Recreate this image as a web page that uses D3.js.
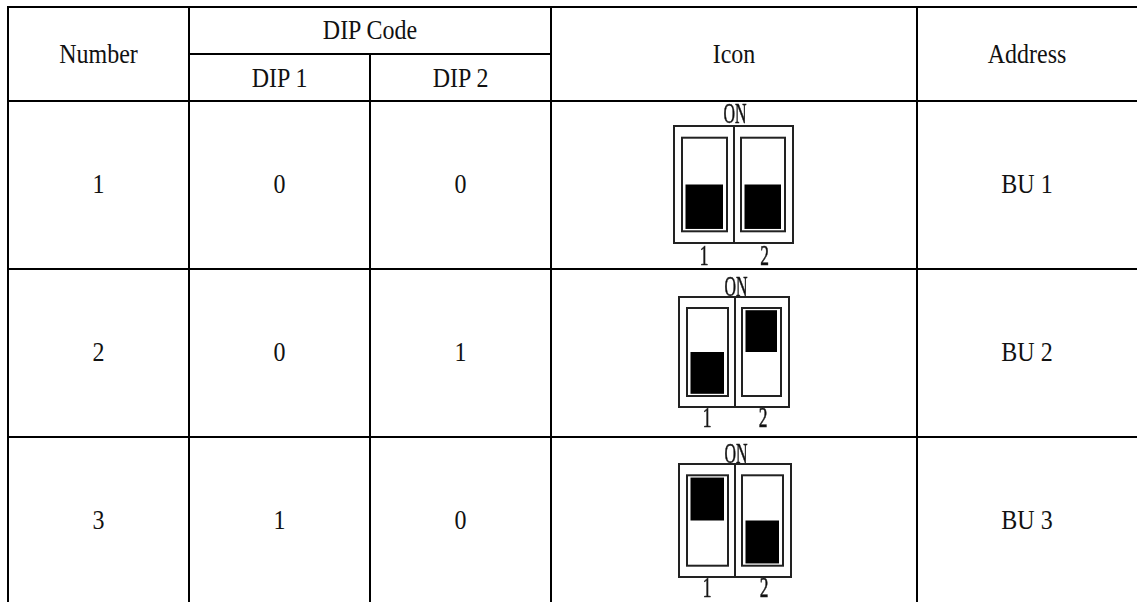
<!DOCTYPE html>
<html>
<head>
<meta charset="utf-8">
<script src="https://cdn.jsdelivr.net/npm/d3@7"></script>
<style>
	html, body {margin:0; padding:0; background:#fff;}
	svg {display:block;}
	text {font-family:"Liberation Serif", serif; fill:#111;}
</style>
</head>
<body>
<script>
//table contents
const numbers = ["1", "2", "3"];
const dip1 = [0, 0, 1];
const dip2 = [0, 1, 0];
const addresses = ["BU 1", "BU 2", "BU 3"];
const headers = ["Number", "DIP Code", "DIP 1", "DIP 2", "Icon", "Address"];

const width = 1137;
const height = 602;

//grid edges
const colEdges = [8, 189, 370, 551, 917, 1137];
const rowEdges = [101, 269, 437, 605];

const xMid = function(i){ return (colEdges[i] + colEdges[i+1]) / 2; };

//rows are equal height, so a band scale places them
const yRow = d3.scaleBand().domain(d3.range(numbers.length)).range([rowEdges[0], rowEdges[3]]);

//each switch picture has its own size in the source
const iconBoxes = [
	{x0:674, x1:793, top:25, bottom:142, mid:734, onGap:3, numGap:22},
	{x0:679, x1:789, top:28, bottom:138, mid:735, onGap:1, numGap:20},
	{x0:679, x1:791, top:27, bottom:140, mid:735, onGap:1, numGap:20}
];

const svg = d3.select("body").append("svg")
	.attr("width", width)
	.attr("height", height);

const defs = svg.append("defs");
defs.append("filter").attr("id", "soft")
	.append("feGaussianBlur").attr("stdDeviation", 0.45);

//grid lines
const lines = [
	[8, 7, 1137, 7],
	[189, 54, 551, 54],
	[8, 101, 1137, 101],
	[8, 269, 1137, 269],
	[8, 437, 1137, 437],
	[8, 6, 8, height],
	[189, 6, 189, height],
	[551, 6, 551, height],
	[917, 6, 917, height],
	[370, 54, 370, height]
];

svg.append("g").selectAll("line")
	.data(lines)
	.enter().append("line")
	.attr("x1", function(d){ return d[0]; })
	.attr("y1", function(d){ return d[1]; })
	.attr("x2", function(d){ return d[2]; })
	.attr("y2", function(d){ return d[3]; })
	.attr("stroke", "#000")
	.attr("stroke-width", 2);

//header text
const headerPos = [
	[xMid(0), 54],
	[(colEdges[1] + colEdges[3]) / 2, 30],
	[xMid(1), 78],
	[xMid(2), 78],
	[xMid(3), 54],
	[xMid(4), 54]
];

//the scan is a little taller than the font
function cellText(sel, xf, yf){
	return sel.attr("text-anchor", "middle")
		.attr("dominant-baseline", "central")
		.attr("font-size", 24)
		.attr("transform", function(d, i){
			return "translate(" + xf(d, i) + "," + yf(d, i) + ") scale(1,1.18)";
		});
}

svg.append("g").selectAll("text")
	.data(headers)
	.enter().append("text")
	.call(cellText, function(d, i){ return headerPos[i][0]; }, function(d, i){ return headerPos[i][1]; })
	.text(function(d){ return d; });

//body rows
const rowCenter = function(d, i){ return yRow(i) + yRow.bandwidth() / 2 - 1; };
const columns = [numbers, dip1, dip2, null, addresses];

columns.forEach(function(col, c){
	if (!col) return;
	svg.append("g").selectAll("text")
		.data(col)
		.enter().append("text")
		.call(cellText, function(){ return xMid(c); }, rowCenter)
		.text(function(d){ return d; });
});

//switch icons
const icons = svg.append("g").attr("filter", "url(#soft)");

numbers.forEach(function(n, i){
	const box = iconBoxes[i];
	const g = icons.append("g").attr("transform", "translate(0," + yRow(i) + ")");
	const slotH = box.bottom - box.top;

	//0 = knob low, 1 = knob high
	const knobY = d3.scaleLinear().domain([0, 1]).range([box.top + slotH * 0.5, box.top + slotH * 0.12]);

	g.append("rect")
		.attr("x", box.x0).attr("y", box.top)
		.attr("width", box.x1 - box.x0).attr("height", slotH)
		.attr("fill", "#fff").attr("stroke", "#222").attr("stroke-width", 2);
	g.append("line")
		.attr("x1", box.mid).attr("x2", box.mid)
		.attr("y1", box.top).attr("y2", box.bottom)
		.attr("stroke", "#222").attr("stroke-width", 2);

	[[box.x0 + 8, box.mid - 7, dip1[i]], [box.mid + 7, box.x1 - 8, dip2[i]]].forEach(function(s){
		g.append("rect")
			.attr("x", s[0]).attr("y", box.top + slotH * 0.1)
			.attr("width", s[1] - s[0]).attr("height", slotH * 0.8)
			.attr("fill", "#fff").attr("stroke", "#222").attr("stroke-width", 2);
		g.append("rect")
			.attr("x", s[0] + 3.5).attr("y", knobY(s[2]))
			.attr("width", s[1] - s[0] - 7.5).attr("height", slotH * 0.38)
			.attr("fill", "#000");
	});

	//stretched labels, like the scanned drawing
	const label = function(str, x, y, sx){
		g.append("text")
			.attr("transform", "translate(" + x + "," + y + ") scale(" + sx + ",1)")
			.attr("text-anchor", "middle")
			.attr("font-size", 29)
			.attr("fill", "#222")
			.attr("stroke", "#222")
			.attr("stroke-width", 0.6)
			.text(str);
	};
	label("ON", box.mid + 1, box.top - box.onGap, 0.55);
	label("1", (box.x0 + box.mid) / 2, box.bottom + box.numGap, 0.6);
	label("2", (box.mid + box.x1) / 2 + 1, box.bottom + box.numGap, 0.6);
});
</script>
</body>
</html>
